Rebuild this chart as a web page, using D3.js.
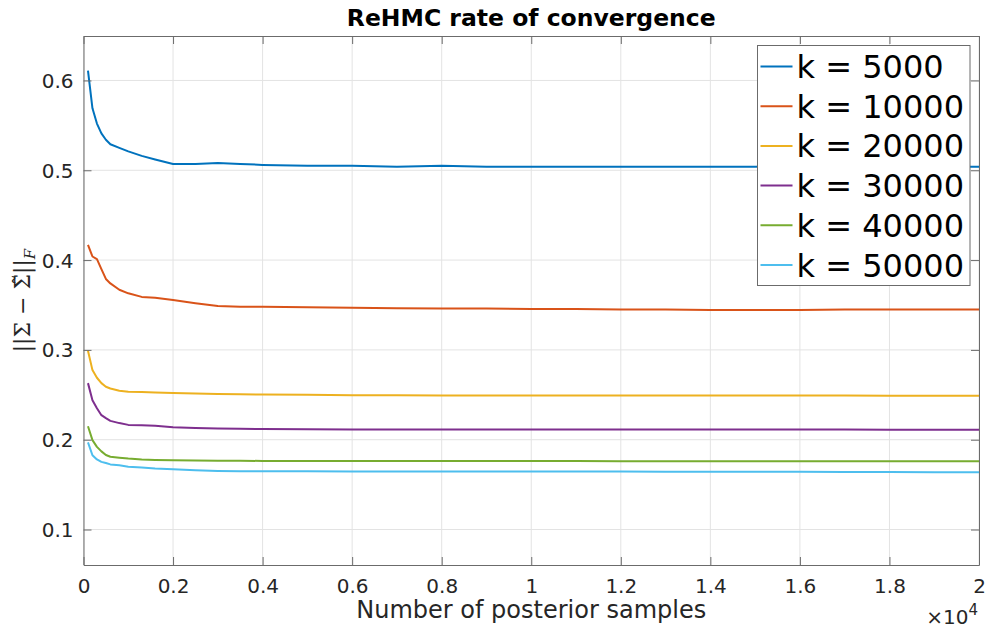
<!DOCTYPE html>
<html>
<head>
<meta charset="utf-8">
<script src="https://cdn.jsdelivr.net/npm/d3@7"></script>
<style>
  body { margin: 0; background: #fff; }
  svg { display: block; font-family: "DejaVu Sans", sans-serif; }
</style>
</head>
<body>
<svg id="chart" width="988" height="632"></svg>
<script>
"use strict";

// number of posterior samples
const samples = [100, 200, 300, 400, 500, 600, 800, 1000, 1300, 1600, 2000, 2500, 3000, 3500, 4000,
	5000, 6000, 7000, 8000, 9000, 10000, 11000, 12000, 13000, 14000, 15000, 16000, 17000, 18000, 19000, 20000];

const k5000 = [0.611, 0.569, 0.552, 0.541, 0.534, 0.529, 0.525, 0.521, 0.516, 0.512, 0.507, 0.507, 0.508, 0.507, 0.506,
	0.505, 0.505, 0.504, 0.505, 0.504, 0.504, 0.504, 0.504, 0.504, 0.504, 0.504, 0.505, 0.505, 0.505, 0.504, 0.504];
const k10000 = [0.417, 0.404, 0.401, 0.390, 0.379, 0.374, 0.367, 0.363, 0.359, 0.358, 0.3555, 0.352, 0.349, 0.348, 0.348,
	0.3475, 0.347, 0.3465, 0.346, 0.346, 0.3455, 0.3455, 0.345, 0.345, 0.3445, 0.3445, 0.3445, 0.345, 0.345, 0.345, 0.345];
const k20000 = [0.299, 0.2775, 0.269, 0.263, 0.259, 0.257, 0.2545, 0.2533, 0.253, 0.2525, 0.252, 0.2515, 0.251, 0.2505, 0.2504,
	0.250, 0.2495, 0.2495, 0.2493, 0.2493, 0.2493, 0.2493, 0.2492, 0.2492, 0.2492, 0.2492, 0.2491, 0.2491, 0.249, 0.249, 0.249];
const k30000 = [0.263, 0.244, 0.235, 0.2273, 0.224, 0.221, 0.2185, 0.2165, 0.216, 0.2155, 0.214, 0.213, 0.2125, 0.2122, 0.2118,
	0.2116, 0.2114, 0.2114, 0.2114, 0.2114, 0.2114, 0.2114, 0.2114, 0.2113, 0.2113, 0.2113, 0.2113, 0.2113, 0.2112, 0.2112, 0.2112];
const k40000 = [0.215, 0.1995, 0.192, 0.187, 0.183, 0.181, 0.180, 0.179, 0.178, 0.1775, 0.177, 0.1768, 0.1766, 0.1765, 0.1764,
	0.1763, 0.1762, 0.1762, 0.1762, 0.1762, 0.1762, 0.1762, 0.1761, 0.1761, 0.1761, 0.1761, 0.176, 0.176, 0.176, 0.176, 0.176];
const k50000 = [0.197, 0.1827, 0.178, 0.1753, 0.174, 0.1725, 0.1716, 0.170, 0.169, 0.168, 0.1672, 0.166, 0.1653, 0.165, 0.165,
	0.1648, 0.1647, 0.1646, 0.1646, 0.1645, 0.1645, 0.1645, 0.1645, 0.1644, 0.1644, 0.1643, 0.1642, 0.1641, 0.164, 0.1639, 0.1638];

const seriesNames = ["k = 5000", "k = 10000", "k = 20000", "k = 30000", "k = 40000", "k = 50000"];
const seriesValues = [k5000, k10000, k20000, k30000, k40000, k50000];
const seriesColors = ["#0072BD", "#D95319", "#EDB120", "#7E2F8E", "#77AC30", "#4DBEEE"];

const xTicks = [0, 0.2, 0.4, 0.6, 0.8, 1, 1.2, 1.4, 1.6, 1.8, 2];
const yTicks = [0.1, 0.2, 0.3, 0.4, 0.5, 0.6];

const margin = { left: 83.5, top: 36, right: 9, bottom: 67 };
const width = 988, height = 632;
const plotW = width - margin.left - margin.right;
const plotH = height - margin.top - margin.bottom;

const svg = d3.select("#chart");
const g = svg.append("g").attr("transform", `translate(${margin.left},${margin.top})`);

// x in units of 10^4
const x = d3.scaleLinear().domain([0, 2]).range([0, plotW]);
const y = d3.scaleLinear().domain([0.0605, 0.6495]).range([plotH, 0]);

// grid
g.append("g").selectAll("line").data(xTicks).enter().append("line")
	.attr("x1", (d) => x(d)).attr("x2", (d) => x(d))
	.attr("y1", 0).attr("y2", plotH)
	.attr("stroke", "#e3e3e3").attr("stroke-width", 1);
g.append("g").selectAll("line").data(yTicks).enter().append("line")
	.attr("y1", (d) => y(d)).attr("y2", (d) => y(d))
	.attr("x1", 0).attr("x2", plotW)
	.attr("stroke", "#e3e3e3").attr("stroke-width", 1);

// lines
const line = d3.line()
	.x((d, i) => x(samples[i] / 1e4))
	.y((d) => y(d));

g.append("g").selectAll("path").data(seriesValues).enter().append("path")
	.attr("d", (d) => line(d))
	.attr("fill", "none")
	.attr("stroke", (d, i) => seriesColors[i])
	.attr("stroke-width", 2)
	.attr("stroke-linejoin", "round");

// axes (MATLAB style box with inward ticks)
const tickLen = 8;
const axisColor = "#6b6b6b";
const xAxis = g.append("g").attr("transform", `translate(0,${plotH})`)
	.call(d3.axisBottom(x).tickValues(xTicks).tickSizeInner(-tickLen).tickSizeOuter(0).tickPadding(14).tickFormat(d3.format("~g")));
const yAxis = g.append("g")
	.call(d3.axisLeft(y).tickValues(yTicks).tickSizeInner(-tickLen).tickSizeOuter(0).tickPadding(10).tickFormat(d3.format(".1f")));
const xTop = g.append("g")
	.call(d3.axisTop(x).tickValues(xTicks).tickSizeInner(-tickLen).tickSizeOuter(0).tickFormat(""));
const yRight = g.append("g").attr("transform", `translate(${plotW},0)`)
	.call(d3.axisRight(y).tickValues(yTicks).tickSizeInner(-tickLen).tickSizeOuter(0).tickFormat(""));

[xAxis, yAxis, xTop, yRight].forEach((a) => {
	a.selectAll(".domain").attr("stroke", axisColor);
	a.selectAll(".tick line").attr("stroke", axisColor);
	a.selectAll(".tick text").attr("fill", "#262626").style("font-size", "20px").style("font-family", "DejaVu Sans");
});
yAxis.selectAll(".tick text").attr("dy", "0.35em");

// title
svg.append("text")
	.attr("x", margin.left + plotW / 2).attr("y", 26)
	.attr("text-anchor", "middle")
	.style("font-size", "23.5px").style("font-weight", "bold")
	.attr("fill", "#000")
	.text("ReHMC rate of convergence");

// x label
svg.append("text")
	.attr("x", margin.left + plotW / 2).attr("y", 618)
	.attr("text-anchor", "middle")
	.style("font-size", "24px")
	.attr("fill", "#262626")
	.text("Number of posterior samples");

// x exponent
const expo = svg.append("text")
	.attr("x", 978).attr("y", 624)
	.attr("text-anchor", "end")
	.style("font-size", "20px")
	.attr("fill", "#262626");
expo.append("tspan").text("\u00d710");
expo.append("tspan").attr("dy", -9).style("font-size", "15px").text("4");

// y label
const ylab = svg.append("text")
	.attr("transform", `translate(30,${margin.top + plotH / 2}) rotate(-90)`)
	.attr("text-anchor", "middle")
	.style("font-family", "DejaVu Serif, serif")
	.style("font-size", "22px")
	.attr("fill", "#262626");
ylab.append("tspan").text("||\u03a3 \u2212 \u03a3\u0303||");
ylab.append("tspan").attr("dy", 5).style("font-style", "italic").style("font-size", "15px").text("F");

// legend
const legX = 757.5, legY = 45.5, legW = 212.5, legH = 240, rowH = 39.7;
const legend = svg.append("g");
legend.append("rect")
	.attr("x", legX).attr("y", legY).attr("width", legW).attr("height", legH)
	.attr("fill", "#fff").attr("stroke", "#6b6b6b").attr("stroke-width", 1);
const rows = legend.selectAll("g.row").data(seriesNames).enter().append("g")
	.attr("class", "row")
	.attr("transform", (d, i) => `translate(${legX},${legY + 21 + i * rowH})`);
rows.append("line")
	.attr("x1", 3).attr("x2", 35).attr("y1", 0).attr("y2", 0)
	.attr("stroke", (d, i) => seriesColors[i]).attr("stroke-width", 2);
rows.append("text")
	.attr("x", 39).attr("y", 11.5)
	.style("font-size", "32px")
	.attr("fill", "#000")
	.text((d) => d);
</script>
</body>
</html>
